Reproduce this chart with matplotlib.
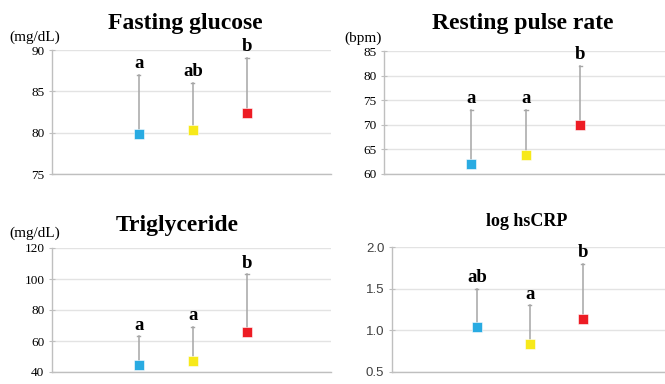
import matplotlib
matplotlib.use("Agg")
import matplotlib.pyplot as plt

groups = [1, 2, 3]
colors = ["#29ABE2", "#F7E91A", "#ED1C24"]

titles = ["Fasting glucose", "Resting pulse rate", "Triglyceride", "log hsCRP"]
units = ["(mg/dL)", "(bpm)", "(mg/dL)", ""]

glucose_mean = [79.8, 80.3, 82.4]
glucose_upper = [87, 86, 89]
glucose_letters = ["a", "ab", "b"]

pulse_mean = [62.0, 63.8, 70.0]
pulse_upper = [73, 73, 82]
pulse_letters = ["a", "a", "b"]

tg_mean = [44.5, 47.0, 65.5]
tg_upper = [63, 69, 103]
tg_letters = ["a", "a", "b"]

crp_mean = [1.04, 0.84, 1.14]
crp_upper = [1.5, 1.3, 1.8]
crp_letters = ["ab", "a", "b"]

glucose_ticks = [75, 80, 85, 90]
pulse_ticks = [60, 65, 70, 75, 80, 85]
tg_ticks = [40, 60, 80, 100, 120]
crp_ticks = [0.5, 1.0, 1.5, 2.0]

W, H = 665, 384
fig = plt.figure(figsize=(W / 100, H / 100), dpi=100)

serif = ["Liberation Serif", "DejaVu Serif"]

def px_axes(left, top, right, bottom):
    return fig.add_axes([left / W, 1 - bottom / H, (right - left) / W, (bottom - top) / H])

panels = [
    (px_axes(52, 50, 331, 174), glucose_mean, glucose_upper, glucose_letters, glucose_ticks, "%d", 17),
    (px_axes(384, 51, 665, 174), pulse_mean, pulse_upper, pulse_letters, pulse_ticks, "%d", 17),
    (px_axes(52, 248, 331, 372), tg_mean, tg_upper, tg_letters, tg_ticks, "%d", 17),
    (px_axes(392, 247, 665, 372), crp_mean, crp_upper, crp_letters, crp_ticks, "%.1f", 13),
]

title_pos = [(185, 23), (523, 23), (177, 225), (527, 222)]
unit_pos = [(9, 37), (344, 38), (9, 233), (0, 0)]

for i, (ax, mean, upper, letters, ticks, fmt, tsize) in enumerate(panels):
    for g, m, u, c, lab in zip(groups, mean, upper, colors, letters):
        ax.plot([g, g], [m, u], color="#A6A6A6", lw=1.1, zorder=2)
        ax.plot([g - 0.03, g + 0.03], [u, u], color="#A6A6A6", lw=1.0, zorder=2)
        ax.plot([g], [m], marker="s", ms=7, color=c, mec="white", mew=0.4, zorder=3, clip_on=False)
        ax.annotate(lab, (g, u), xytext=(0, 2), textcoords="offset points",
                    ha="center", va="bottom", fontsize=13.5, fontweight="bold",
                    family=serif, annotation_clip=False)
    ax.set_xlim(-0.6, 4.55)
    ax.set_ylim(ticks[0], ticks[-1])
    ax.set_yticks(ticks)
    ax.set_yticklabels([fmt % t for t in ticks])
    ax.set_xticks([])
    ax.grid(axis="y", color="#E3E3E3", lw=1)
    ax.set_axisbelow(True)
    for s in ["top", "right"]:
        ax.spines[s].set_visible(False)
    for s in ["left", "bottom"]:
        ax.spines[s].set_color("#BFBFBF")
        ax.spines[s].set_linewidth(1)
    ax.tick_params(axis="y", direction="inout", length=5, color="#BFBFBF", labelsize=9.5, pad=3)
    for lbl in ax.get_yticklabels():
        if i == 3:
            lbl.set_family(["Liberation Sans", "DejaVu Sans"])
            lbl.set_color("#404040")
        else:
            lbl.set_family(serif)
    tx, ty = title_pos[i]
    fig.text(tx / W, 1 - ty / H, titles[i], ha="center", va="center",
             fontsize=tsize, fontweight="bold", family=serif)
    if units[i]:
        ux, uy = unit_pos[i]
        fig.text(ux / W, 1 - uy / H, units[i], ha="left", va="center", fontsize=11, family=serif)

fig.savefig("out.png", dpi=100)
